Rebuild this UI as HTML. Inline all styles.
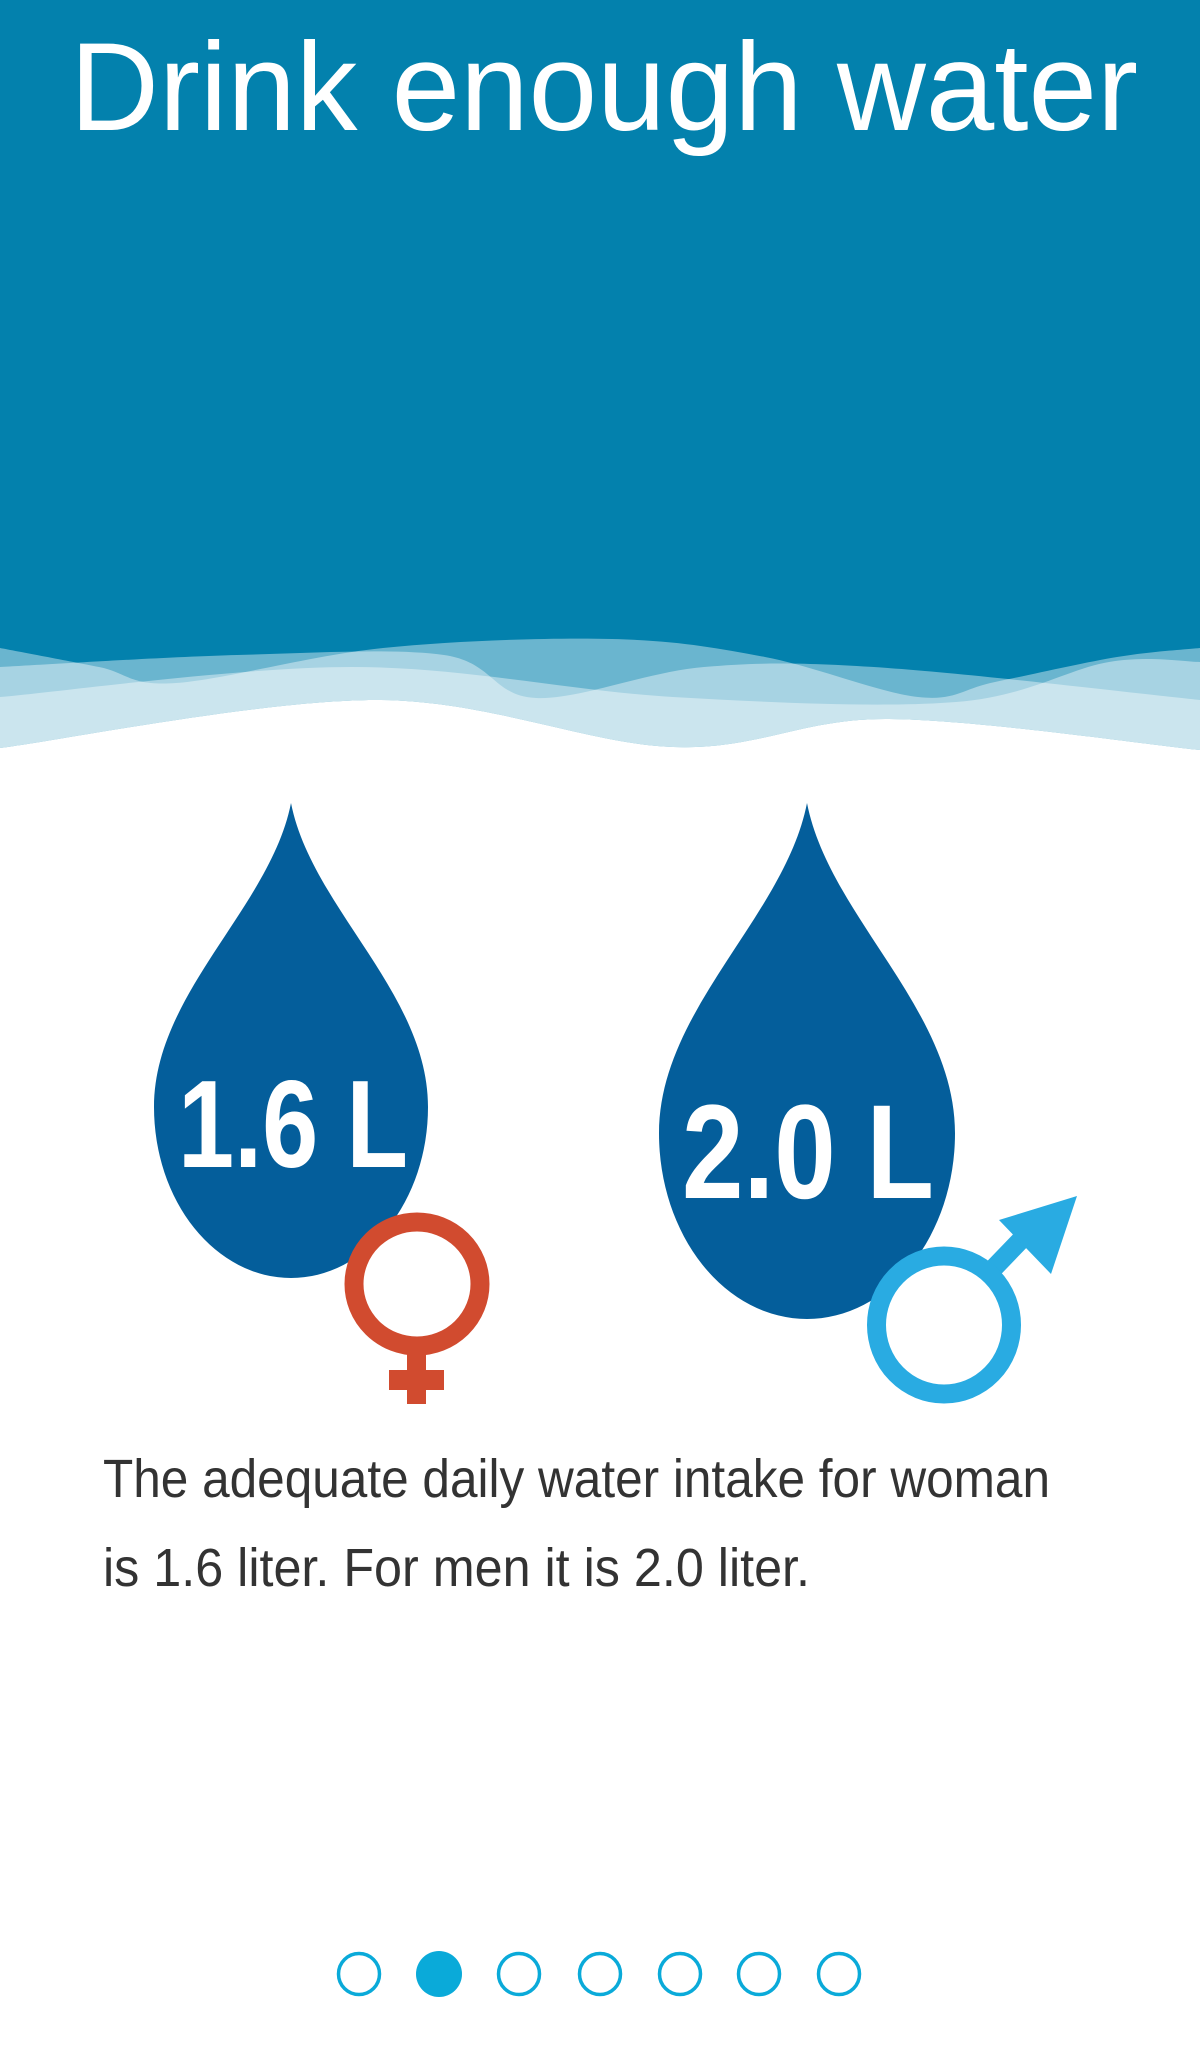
<!DOCTYPE html>
<html><head><meta charset="utf-8"><style>
html,body{margin:0;padding:0;background:#fff;}
svg{display:block;}
text{font-family:"Liberation Sans",sans-serif;}
</style></head><body>
<svg id="s" width="1200" height="2050" viewBox="0 0 1200 2050">
<rect x="0" y="0" width="1200" height="780" fill="#0381ad"/>
<text x="70" y="130" font-size="125" fill="#fff" font-weight="300" textLength="1068" lengthAdjust="spacingAndGlyphs">Drink enough water</text>
<g id="waves"></g>
<path id="dropF" fill="#045e9b"/>
<text x="178" y="1167" font-size="124" font-weight="bold" fill="#fff" textLength="230" lengthAdjust="spacingAndGlyphs">1.6 L</text>
<g>
<ellipse cx="417" cy="1284" rx="63" ry="62" fill="#fff" stroke="#d14b2f" stroke-width="19"/>
<rect x="407" y="1352" width="19" height="52" fill="#d14b2f"/>
<rect x="389" y="1370" width="55" height="20" fill="#d14b2f"/>
</g>
<path id="dropM" fill="#045e9b"/>
<text x="682" y="1198" font-size="134" font-weight="bold" fill="#fff" textLength="252" lengthAdjust="spacingAndGlyphs">2.0 L</text>
<g>
<line x1="990" y1="1272" x2="1040" y2="1220" stroke="#29abe2" stroke-width="19"/>
<ellipse cx="944" cy="1325" rx="67.5" ry="69" fill="#fff" stroke="#29abe2" stroke-width="19"/>
<polygon points="999,1220 1077,1196 1051,1274" fill="#29abe2"/>
</g>
<text x="103" y="1497" font-size="54" fill="#333" font-weight="300" textLength="947" lengthAdjust="spacingAndGlyphs">The adequate daily water intake for woman</text>
<text x="103" y="1586" font-size="54" fill="#333" font-weight="300" textLength="707" lengthAdjust="spacingAndGlyphs">is 1.6 liter. For men it is 2.0 liter.</text>
<g id="dots"></g>
</svg>
<script>
function cr(p){var d='M'+p[0][0]+','+p[0][1];for(var i=0;i<p.length-1;i++){var a=p[i-1]||p[i],b=p[i],c=p[i+1],e=p[i+2]||c;d+=' C'+(b[0]+(c[0]-a[0])/6)+','+(b[1]+(c[1]-a[1])/6)+' '+(c[0]-(e[0]-b[0])/6)+','+(c[1]-(e[1]-b[1])/6)+' '+c[0]+','+c[1];}return d;}
function crRev(p){return cr(p.slice().reverse()).replace(/^M[^ ]+/,'');}
var edge=[[0,748],[375,700],[673,747],[888,719],[1200,750]];
var w1=[[0,648],[99,667],[176,683],[383,648],[612,639],[765,657],[918,697],[995,682],[1117,657],[1200,648]];
var w2=[[0,667],[237,655],[444,655],[536,698],[704,667],[888,668],[1200,700]];
var w3=[[0,697],[352,667],[673,697],[956,702],[1109,662],[1200,662]];
var g=document.getElementById('waves');var ns='http://www.w3.org/2000/svg';
[w1,w2,w3].forEach(function(w,i){var p=document.createElementNS(ns,'path');
p.setAttribute('d',cr(w)+' L'+edge[edge.length-1][0]+','+edge[edge.length-1][1]+crRev(edge)+' Z');
p.setAttribute('fill','#fff');p.setAttribute('fill-opacity','0.41');


g.appendChild(p);});
var wp=document.createElementNS(ns,'path');
wp.setAttribute('d',cr(edge)+' L1200,800 L0,800 Z');wp.setAttribute('fill','#fff');


g.appendChild(wp);
function drop(cx,ty,by,w){var h=by-ty;var my=ty+0.64*h;var ry=by-my;
return 'M'+cx+','+ty+' C'+(cx-0.15*w)+','+(ty+0.22*h)+' '+(cx-w)+','+(ty+0.4*h)+' '+(cx-w)+','+my+
' A'+w+','+ry+' 0 0 0 '+(cx+w)+','+my+
' C'+(cx+w)+','+(ty+0.4*h)+' '+(cx+0.15*w)+','+(ty+0.22*h)+' '+cx+','+ty+' Z';}
document.getElementById('dropF').setAttribute('d',drop(291,803,1278,137));
document.getElementById('dropM').setAttribute('d',drop(807,803,1319,148));
var dg=document.getElementById('dots');var dx=[359,439,519,600,680,759,839];
dx.forEach(function(x,i){var c=document.createElementNS(ns,'circle');
c.setAttribute('cx',x);c.setAttribute('cy',1974);c.setAttribute('r',i==1?23:20.5);
c.setAttribute('fill',i==1?'#0aaad9':'#fff');c.setAttribute('stroke','#0aaad9');c.setAttribute('stroke-width',i==1?0:3.5);


dg.appendChild(c);});
</script>
</body></html>
